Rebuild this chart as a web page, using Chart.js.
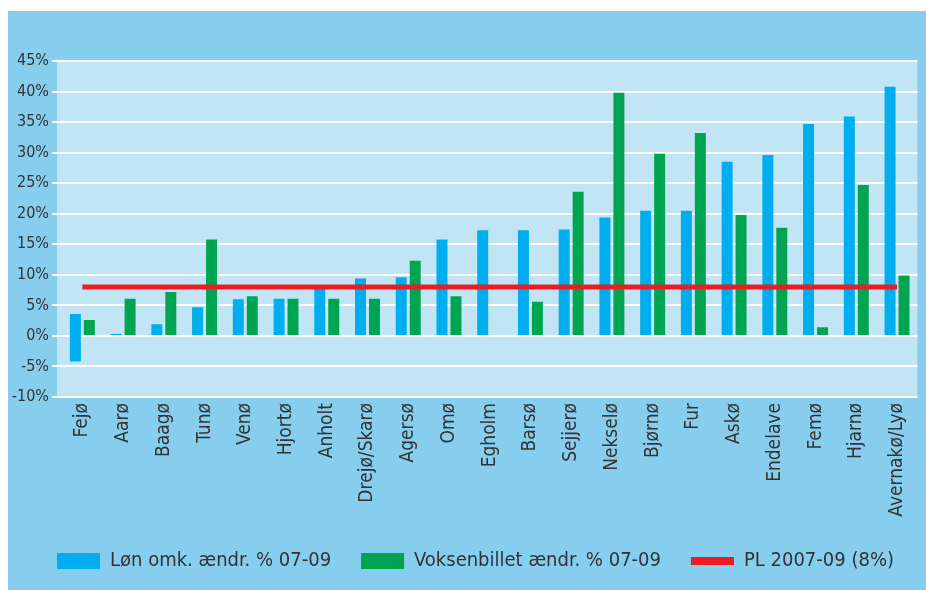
<!DOCTYPE html>
<html>
<head>
<meta charset="utf-8">
<script src="https://cdn.jsdelivr.net/npm/chart.js@4.4.1/dist/chart.umd.min.js"></script>
<style>
  html, body { margin: 0; padding: 0; background: #ffffff; width: 926px; height: 590px; overflow: hidden; }
  #wrap { position: absolute; left: 8px; top: 11px; width: 918px; height: 579px; background: #87CEEE; }
  canvas { display: block; }
</style>
</head>
<body>
<div id="wrap"><canvas id="c" width="918" height="579"></canvas></div>
<script>
const categories = ["Fejø","Aarø","Baagø","Tunø","Venø","Hjortø","Anholt","Drejø/Skarø","Agersø","Omø","Egholm","Barsø","Sejjerø","Nekselø","Bjørnø","Fur","Askø","Endelave","Femø","Hjarnø","Avernakø/Lyø"];
const lonValues = [[-4.2, 3.6], 0.3, 1.9, 4.7, 6.0, 6.1, 7.8, 9.4, 9.6, 15.8, 17.3, 17.3, 17.4, 19.4, 20.5, 20.5, 28.5, 29.6, 34.7, 35.9, 40.8];
const voksenValues = [2.6, 6.1, 7.2, 15.8, 6.5, 6.1, 6.1, 6.1, 12.3, 6.5, 0, 5.6, 23.6, 39.8, 29.8, 33.2, 19.8, 17.7, 1.4, 24.7, 9.9];
const plValues = categories.map(() => 8);
const seriesNames = ["Løn omk. ændr. % 07-09", "Voksenbillet ændr. % 07-09", "PL 2007-09 (8%)"];
const yTicks = { min: -10, max: 45, step: 5 };

const FONT = "'Liberation Sans Narrow', 'DejaVu Sans Condensed', 'Liberation Sans', sans-serif";
const TEXT = '#333333';

const plotBg = {
  id: 'plotBg',
  beforeDraw(chart) {
    const { ctx, chartArea } = chart;
    ctx.save();
    ctx.fillStyle = '#C2E5F5';
    ctx.fillRect(chartArea.left - 5, chartArea.top, chartArea.right - chartArea.left + 5, chartArea.bottom - chartArea.top);
    ctx.restore();
  }
};

const legendShift = {
  id: 'legendShift',
  afterLayout(chart) {
    if (chart.legend) {
      chart.legend.left += 12;
      chart.legend.right += 12;
    }
  }
};

new Chart(document.getElementById('c'), {
  data: {
    labels: categories,
    datasets: [
      { type: 'line', label: seriesNames[2], data: plValues, borderColor: '#ED1C24', backgroundColor: '#ED1C24', borderWidth: 5, pointRadius: 0, order: 0 },
      { type: 'bar', label: seriesNames[0], data: lonValues, backgroundColor: '#00AEEF', categoryPercentage: 0.686, barPercentage: 0.786, order: 1 },
      { type: 'bar', label: seriesNames[1], data: voksenValues, backgroundColor: '#00A551', categoryPercentage: 0.686, barPercentage: 0.786, order: 1 }
    ]
  },
  options: {
    responsive: false,
    devicePixelRatio: 1,
    animation: false,
    layout: { padding: { top: 50, right: 7, bottom: 9, left: 0 } },
    scales: {
      x: {
        grid: { display: false, drawTicks: false },
        border: { display: false },
        ticks: { autoSkip: false, maxRotation: 90, minRotation: 90, padding: 6, color: TEXT, font: { family: FONT, size: 19 } },
        afterFit(s) { s.height = 124; }
      },
      y: {
        min: yTicks.min, max: yTicks.max,
        grid: { color: '#ffffff', lineWidth: 2, tickLength: 10, drawTicks: true },
        border: { display: false },
        ticks: { stepSize: yTicks.step, padding: 3, color: TEXT, font: { family: FONT, size: 16 }, callback: v => v + '%' },
        afterFit(s) { s.width = 54; }
      }
    },
    plugins: {
      tooltip: { enabled: false },
      legend: {
        position: 'bottom',
        labels: {
          color: TEXT,
          font: { family: FONT, size: 20 },
          usePointStyle: true,
          pointStyleWidth: 43,
          boxWidth: 43,
          boxHeight: 16,
          padding: 30,
          generateLabels() {
            return [
              { text: seriesNames[0], fillStyle: '#00AEEF', strokeStyle: '#00AEEF', lineWidth: 0, pointStyle: 'rect', fontColor: TEXT },
              { text: seriesNames[1], fillStyle: '#00A551', strokeStyle: '#00A551', lineWidth: 0, pointStyle: 'rect', fontColor: TEXT },
              { text: seriesNames[2], fillStyle: '#ED1C24', strokeStyle: '#ED1C24', lineWidth: 8, pointStyle: 'line', fontColor: TEXT }
            ];
          }
        }
      }
    }
  },
  plugins: [plotBg, legendShift]
});
</script>
</body>
</html>
